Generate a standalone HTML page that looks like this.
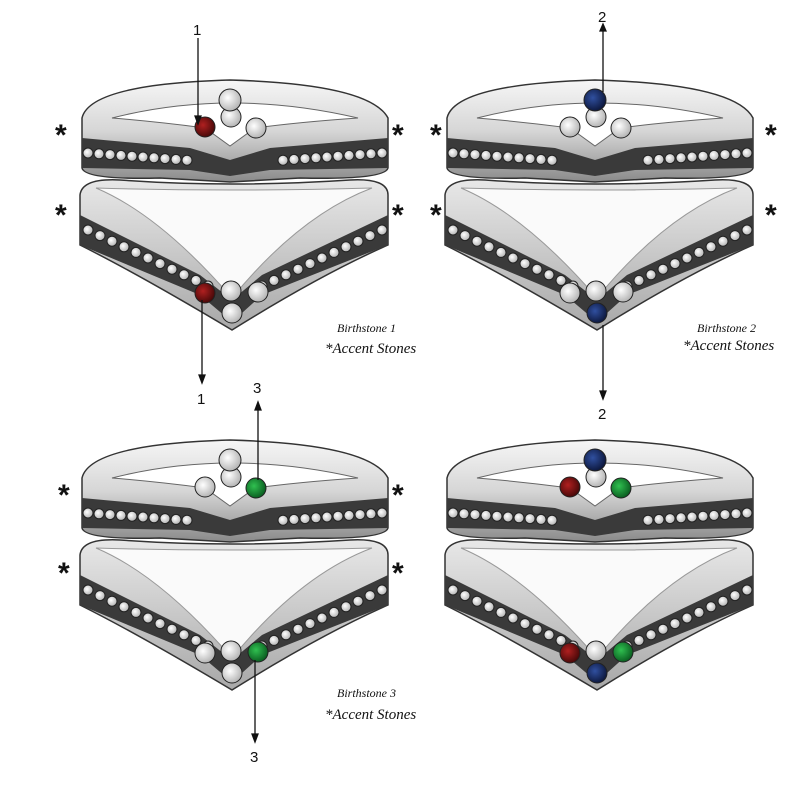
<!DOCTYPE html>
<html><head><meta charset="utf-8"><style>
html,body{margin:0;padding:0;background:#fff}
svg{display:block}
.lbl{font-family:"Liberation Serif",serif;font-style:italic;fill:#111}
.num{font-family:"Liberation Sans",sans-serif;font-size:15px;fill:#111}
.ast{font-family:"Liberation Sans",sans-serif;font-size:30px;font-weight:bold;fill:#111}
</style></head><body>
<svg id="s" width="800" height="800" viewBox="0 0 800 800" xmlns="http://www.w3.org/2000/svg">
<defs>
<linearGradient id="metal" x1="0" y1="0" x2="0" y2="1">
<stop offset="0" stop-color="#f6f6f6"/><stop offset="0.5" stop-color="#d6d6d6"/><stop offset="1" stop-color="#8a8a8a"/></linearGradient>
<linearGradient id="metal2" x1="0" y1="0" x2="0" y2="1">
<stop offset="0" stop-color="#e8e8e8"/><stop offset="1" stop-color="#a8a8a8"/></linearGradient>
<radialGradient id="w" cx="0.4" cy="0.4" r="0.7"><stop offset="0" stop-color="#fff"/><stop offset="1" stop-color="#aaa"/></radialGradient>
<radialGradient id="r" cx="0.4" cy="0.4" r="0.7"><stop offset="0" stop-color="#b02020"/><stop offset="1" stop-color="#3a0505"/></radialGradient>
<radialGradient id="b" cx="0.4" cy="0.4" r="0.7"><stop offset="0" stop-color="#3050a0"/><stop offset="1" stop-color="#081030"/></radialGradient>
<radialGradient id="g" cx="0.4" cy="0.4" r="0.7"><stop offset="0" stop-color="#30c050"/><stop offset="1" stop-color="#05501a"/></radialGradient>
<g id="ring">
<!-- upper ring -->
<path d="M82,118 Q90,84 230,80 Q370,84 388,118 L388,168 Q385,180 300,178 L230,182 L160,178 Q85,180 82,168 Z" fill="url(#metal)" stroke="#333" stroke-width="1.5"/>
<path d="M112,118 Q230,88 358,118 Q300,122 255,128 L230,146 L205,128 Q160,122 112,118 Z" fill="#fff" stroke="#666"/>
<path d="M82,138 L190,148 L230,160 L270,148 L388,138 L388,168 L270,170 L230,176 L190,170 L82,168 Z" fill="#3a3a3a"/>
<!-- lower ring -->
<path d="M80,195 Q82,178 120,180 Q230,188 350,180 Q388,178 388,195 L388,245 Q320,275 232,330 Q140,275 80,245 Z" fill="url(#metal2)" stroke="#333" stroke-width="1.5"/>
<path d="M96,188 Q230,192 372,188 Q300,215 232,298 Q160,215 96,188 Z" fill="#fafafa" stroke="#999"/>
<path d="M80,215 L200,275 L232,300 L262,275 L388,215 L388,245 L262,295 L232,322 L200,295 L80,245 Z" fill="#3a3a3a"/>
<g id="ch"></g>
</g>
</defs>
<use href="#ring" x="0" y="0"/>
<use href="#ring" x="365" y="0"/>
<use href="#ring" x="0" y="360"/>
<use href="#ring" x="365" y="360"/>
<g id="stones"></g>
<g stroke="#111" stroke-width="1.3" fill="#111">
<line x1="198" y1="38" x2="198" y2="118"/><path d="M195,116 L201,116 L198,124Z"/>
<line x1="202" y1="300" x2="202" y2="376"/><path d="M199,375 L205,375 L202,383Z"/>
<line x1="603" y1="26" x2="603" y2="92"/><path d="M600,31 L606,31 L603,24Z"/>
<line x1="603" y1="325" x2="603" y2="392"/><path d="M600,391 L606,391 L603,399Z"/>
<line x1="258" y1="405" x2="258" y2="480"/><path d="M255,410 L261,410 L258,402Z"/>
<line x1="255" y1="660" x2="255" y2="735"/><path d="M252,734 L258,734 L255,742Z"/>
</g>
<text class="num" x="193" y="35">1</text>
<text class="num" x="197" y="404">1</text>
<text class="num" x="598" y="22">2</text>
<text class="num" x="598" y="419">2</text>
<text class="num" x="253" y="393">3</text>
<text class="num" x="250" y="762">3</text>
<text class="ast" x="55" y="145">*</text><text class="ast" x="392" y="145">*</text>
<text class="ast" x="55" y="225">*</text><text class="ast" x="392" y="225">*</text>
<text class="ast" x="430" y="145">*</text><text class="ast" x="765" y="145">*</text>
<text class="ast" x="430" y="225">*</text><text class="ast" x="765" y="225">*</text>
<text class="ast" x="58" y="505">*</text><text class="ast" x="392" y="505">*</text>
<text class="ast" x="58" y="583">*</text><text class="ast" x="392" y="583">*</text>
<text class="lbl" x="337" y="332" font-size="12">Birthstone 1</text>
<text class="lbl" x="325" y="353" font-size="15">*Accent Stones</text>
<text class="lbl" x="697" y="332" font-size="12">Birthstone 2</text>
<text class="lbl" x="683" y="350" font-size="15">*Accent Stones</text>
<text class="lbl" x="337" y="697" font-size="12">Birthstone 3</text>
<text class="lbl" x="325" y="719" font-size="15">*Accent Stones</text>
</svg>
<script>
var NS="http://www.w3.org/2000/svg";
function c(p,x,y,r,f,sw){var e=document.createElementNS(NS,"circle");e.setAttribute("cx",x);e.setAttribute("cy",y);e.setAttribute("r",r);e.setAttribute("fill",f);e.setAttribute("stroke","#222");e.setAttribute("stroke-width",sw||"1");p.appendChild(e);}
var ch=document.getElementById("ch");
for(var i=0;i<=9;i++){
 var x=88+i*11; c(ch,x,153+i*0.8,5,"url(#w)");
 c(ch,382-i*11,153+i*0.8,5,"url(#w)");
}
for(var i=0;i<=10;i++){
 var x=88+i*12; var y=230+i*5.6; c(ch,x,y,5,"url(#w)");
 c(ch,382-i*12,y,5,"url(#w)");
}
var st=document.getElementById("stones");
var sets=[[0,0,["r","w","w"],["r","w","w"]],[365,0,["w","b","w"],["w","b","w"]],[0,360,["w","w","g"],["w","w","g"]],[365,360,["r","b","g"],["r","b","g"]]];
sets.forEach(function(s){var ox=s[0],oy=s[1];
 c(st,ox+231,oy+117,10,"url(#w)");
 c(st,ox+205,oy+127,10,"url(#"+s[2][0]+")");
 c(st,ox+230,oy+100,11,"url(#"+s[2][1]+")");
 c(st,ox+256,oy+128,10,"url(#"+s[2][2]+")");
 var lb=s[3];
 c(st,ox+231,oy+291,10,"url(#w)");
 c(st,ox+205,oy+293,10,"url(#"+lb[0]+")");
 c(st,ox+258,oy+292,10,"url(#"+lb[2]+")");
 c(st,ox+232,oy+313,10,"url(#"+lb[1]+")");
});
</script>
</body></html>
